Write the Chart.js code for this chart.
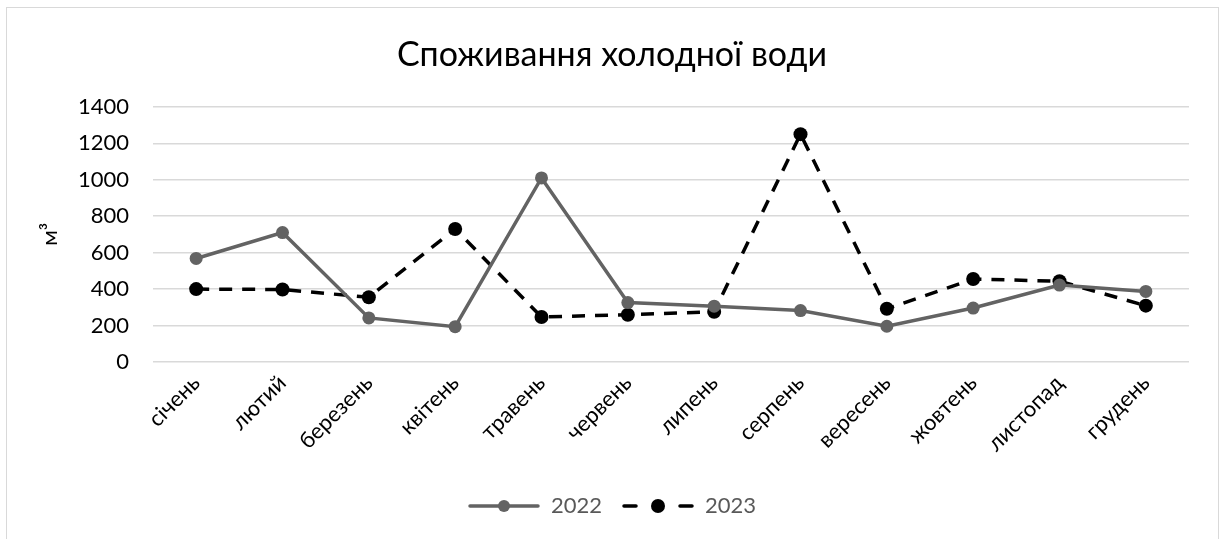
<!DOCTYPE html>
<html>
<head>
<meta charset="utf-8">
<script src="https://cdn.jsdelivr.net/npm/chart.js"></script>
<style>
    body { margin: 0; background: #ffffff; }
    #frame {
        position: absolute;
        left: 6px;
        top: 7px;
        width: 1211px;
        height: 600px;
        border: 1px solid #d9d9d9;
    }
    #waterChart { position: absolute; left: 0; top: 0; }
</style>
</head>
<body>
<div id="frame"></div>
<canvas id="waterChart" width="1224" height="539"></canvas>
<script>
const months = ['січень', 'лютий', 'березень', 'квітень', 'травень', 'червень',
    'липень', 'серпень', 'вересень', 'жовтень', 'листопад', 'грудень'];
const water2022 = [568, 710, 242, 194, 1010, 326, 306, 282, 196, 296, 422, 387];
const water2023 = [400, 398, 355, 730, 247, 259, 276, 1250, 292, 455, 443, 309];
const yTicks = [0, 200, 400, 600, 800, 1000, 1200, 1400];

const fontFamily = 'Lato, "Noto Sans", sans-serif';
const grey = '#636363';

// legend icons: line with marker in the middle
function makeIcon(color, dashed) {
    const c = document.createElement('canvas');
    c.width = 72;
    c.height = 16;
    const ctx = c.getContext('2d');
    ctx.strokeStyle = color;
    ctx.fillStyle = color;
    ctx.lineWidth = 3.5;
    ctx.lineCap = 'round';
    ctx.beginPath();
    if (dashed) {
        ctx.moveTo(2, 8); ctx.lineTo(14, 8);
        ctx.moveTo(58, 8); ctx.lineTo(70, 8);
    } else {
        ctx.moveTo(2, 8); ctx.lineTo(70, 8);
    }
    ctx.stroke();
    ctx.beginPath();
    ctx.arc(36, 8, dashed ? 7 : 6, 0, Math.PI * 2);
    ctx.fill();
    return c;
}
const legendIcons = [makeIcon(grey, false), makeIcon('#000000', true)];

const config = {
    type: 'line',
    data: {
        labels: months,
        datasets: [
            {
                label: '2022',
                data: water2022,
                borderColor: grey,
                backgroundColor: grey,
                borderWidth: 3.5,
                pointRadius: 6.5,
                pointBorderWidth: 0,
                pointHoverRadius: 6.5,
                tension: 0,
            },
            {
                label: '2023',
                data: water2023,
                borderColor: '#000000',
                backgroundColor: '#000000',
                borderWidth: 3.5,
                borderDash: [13, 10],
                pointRadius: 7,
                pointBorderWidth: 0,
                pointHoverRadius: 7,
                tension: 0,
            },
        ],
    },
    options: {
        responsive: false,
        animation: false,
        layout: {
            padding: { left: 35, right: 35, top: 0, bottom: 12 },
        },
        plugins: {
            title: {
                display: true,
                text: 'Споживання холодної води',
                color: '#000000',
                font: { family: fontFamily, size: 34, weight: 'normal' },
                padding: { top: 35, bottom: 31 },
            },
            legend: {
                position: 'bottom',
                labels: {
                    usePointStyle: true,
                    pointStyleWidth: 72,
                    boxHeight: 16,
                    padding: 20,
                    color: '#595959',
                    font: { family: fontFamily, size: 22 },
                    generateLabels: function (chart) {
                        const items = Chart.defaults.plugins.legend.labels.generateLabels(chart);
                        items.forEach(function (item, i) {
                            item.pointStyle = legendIcons[i];
                        });
                        return items;
                    },
                },
            },
            tooltip: { enabled: false },
        },
        scales: {
            x: {
                offset: true,
                grid: { display: false },
                border: { display: false },
                ticks: {
                    color: '#000000',
                    font: { family: fontFamily, size: 22 },
                    minRotation: 45,
                    maxRotation: 45,
                    padding: 0,
                },
                afterFit: function (scale) {
                    scale.height = 113;
                },
            },
            y: {
                min: 0,
                max: 1400,
                afterBuildTicks: function (scale) {
                    scale.ticks = yTicks.map(function (v) { return { value: v }; });
                },
                grid: {
                    color: '#d9d9d9',
                    lineWidth: 1.5,
                    drawTicks: false,
                },
                border: { display: false },
                ticks: {
                    color: '#000000',
                    font: { family: fontFamily, size: 22 },
                    padding: 24,
                    callback: function (value) { return String(value); },
                },
                title: {
                    display: true,
                    text: 'м³',
                    color: '#000000',
                    font: { family: fontFamily, size: 22 },
                    padding: { top: 2, bottom: 0 },
                },
                afterFit: function (scale) {
                    scale.width = 118;
                },
            },
        },
    },
};

const waterCtx = document.getElementById('waterChart').getContext('2d');
const waterChart = new Chart(waterCtx, config);
</script>
</body>
</html>
